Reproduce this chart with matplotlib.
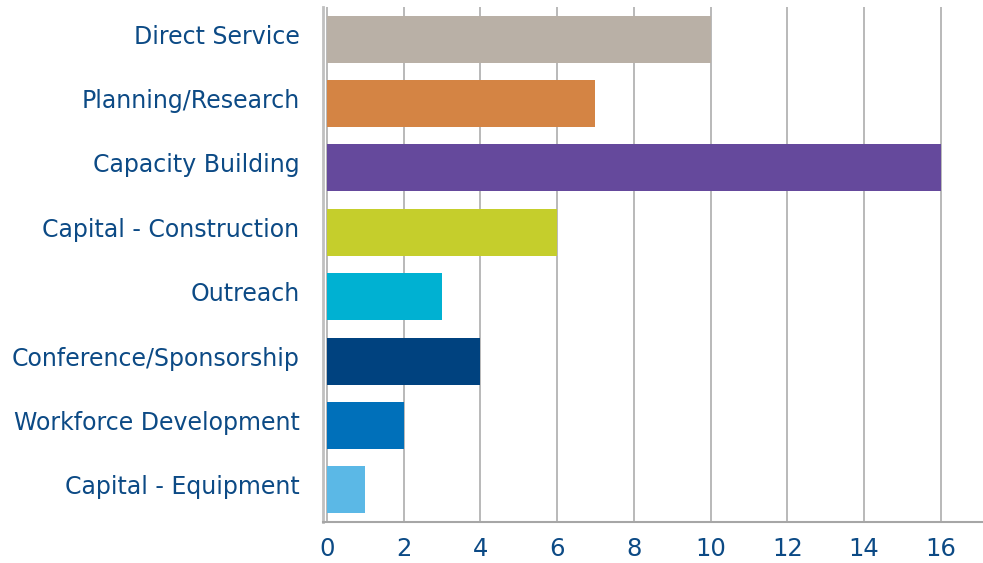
import matplotlib
matplotlib.use("Agg")
import matplotlib.pyplot as plt
from matplotlib.transforms import ScaledTranslation

# ─── data ───
categories = ["Direct Service", "Planning/Research", "Capacity Building",
              "Capital - Construction", "Outreach", "Conference/Sponsorship",
              "Workforce Development", "Capital - Equipment"]
values = [10, 7, 16, 6, 3, 4, 2, 1]
colors = ["#B9B0A6", "#D48444", "#65499C", "#C5CE2C",
          "#00B1D2", "#00427F", "#0070BA", "#5BB8E6"]
xticks = [0, 2, 4, 6, 8, 10, 12, 14, 16]

TEXT = "#0C4A85"
GRID = "#A6A6A6"

plt.rcParams["font.family"] = ["DejaVu Sans"]

fig = plt.figure(figsize=(9.83, 5.63), dpi=100, facecolor="white")
ax = fig.add_axes([323 / 983, 41 / 563, 660 / 983, 515 / 563])

ypos = list(range(len(categories)))
ax.barh(ypos, values, height=0.73, color=colors, zorder=3)

ax.set_ylim(len(categories) - 0.5, -0.5)
ax.set_xlim(-0.1, 17.1)

ax.set_yticks(ypos)
ax.set_yticklabels(categories)
ax.set_xticks(xticks)
ax.set_xticklabels([str(t) for t in xticks])

ax.tick_params(axis="y", length=0, pad=17, labelsize=17, labelcolor=TEXT)
ax.tick_params(axis="x", length=0, pad=11, labelsize=17.5, labelcolor=TEXT)

# category labels sit a little above the bar centres
shift = ScaledTranslation(0, 5 / 100, fig.dpi_scale_trans)
for lbl in ax.get_yticklabels():
    lbl.set_transform(lbl.get_transform() + shift)

ax.grid(axis="x", color=GRID, lw=1.1, zorder=0)
ax.set_axisbelow(True)

for side in ["top", "right"]:
    ax.spines[side].set_visible(False)
ax.spines["left"].set_color("#C0C0C0")
ax.spines["left"].set_linewidth(2)
ax.spines["bottom"].set_color(GRID)
ax.spines["bottom"].set_linewidth(1.5)

fig.savefig("out.png", dpi=100, facecolor="white")
